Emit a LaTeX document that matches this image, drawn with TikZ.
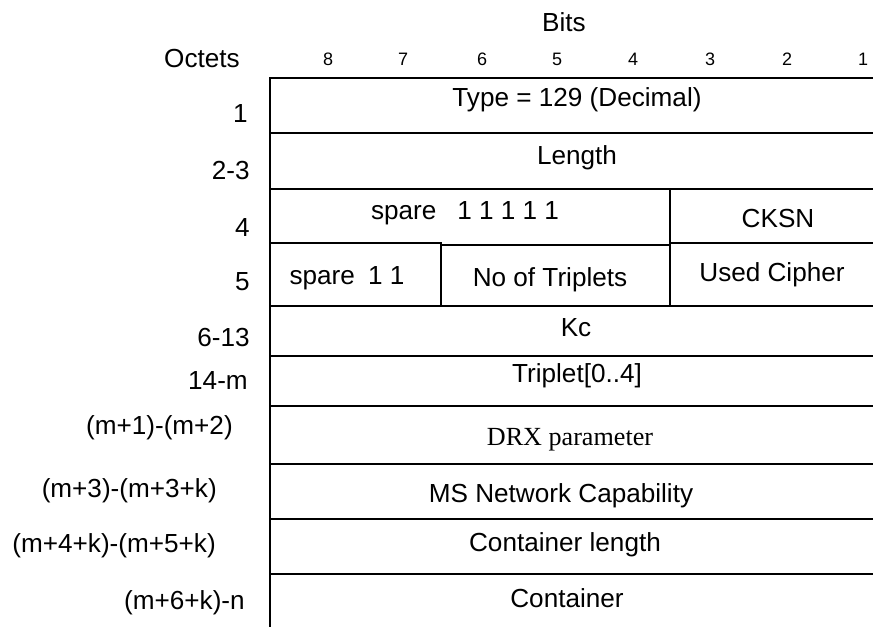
\documentclass[tikz,border=0pt]{standalone}
\usepackage{fontspec}
\setmainfont{Liberation Sans}
\newfontfamily\timesfont{Liberation Serif}
\begin{document}
\begin{tikzpicture}[x=0.75pt,y=-0.75pt,
  rule/.style={line width=1.5pt, line cap=rect},
  txt/.style={font=\fontsize{19.6}{23}\selectfont, inner sep=0pt, anchor=base},
  lbl/.style={txt, anchor=base east},
  bitnum/.style={font=\fontsize{13.5}{16}\selectfont, inner sep=0pt, anchor=base}]
\useasboundingbox (0,0) rectangle (873,626);
\fill[white] (0,0) rectangle (873,626);

% header
\node[txt] (bits) at (564,31) {Bits};
\node[lbl] (octets) at (240,67) {Octets};
\foreach \n/\x in {8/328,7/403,6/482,5/557,4/633,3/710,2/787,1/863}
  \node[bitnum] (b\n) at (\x,65) {\n};

% table rules
\draw[rule] (270,78) -- (873,78);
\foreach \y in {133,189,306,356,406,464,519,574}
  \draw[rule] (270,\y) -- (873,\y);
\draw[rule] (270,243) -- (441,243);
\draw[rule] (441,245) -- (670,245);
\draw[rule] (670,243) -- (873,243);
\draw[rule] (270,78) -- (270,626);
\draw[rule] (670,189) -- (670,306);
\draw[rule] (441,245) -- (441,306);

% cell texts
\node[txt] (type) at (577,106) {Type = 129 (Decimal)};
\node[txt] (len) at (577,164) {Length};
\node[txt] (spare5) at (465,219) {spare\hspace{0.8em}1 1 1 1 1};
\node[txt] (cksn) at (778,227) {CKSN};
\node[txt] (spare2) at (347,284) {spare\hspace{0.5em}1 1};
\node[txt] (notrip) at (550,286) {No of Triplets};
\node[txt] (cipher) at (772,281) {Used Cipher};
\node[txt] (kc) at (576,336) {Kc};
\node[txt] (trip) at (577,382) {Triplet[0..4]};
\node[txt, font=\fontsize{19.6}{23}\timesfont] (drx) at (570,445) {DRX parameter};
\node[txt] (msnc) at (561,502) {MS Network Capability};
\node[txt] (clen) at (565,551) {Container length};
\node[txt] (cont) at (567,607) {Container};

% octet labels
\node[lbl] (o1) at (248,122) {1};
\node[lbl] (o2) at (250,179) {2-3};
\node[lbl] (o4) at (250,236) {4};
\node[lbl] (o5) at (250,290) {5};
\node[lbl] (o6) at (250,346) {6-13};
\node[lbl] (o14) at (248,389) {14-m};
\node[lbl] (om1) at (233,434) {(m+1)-(m+2)};
\node[lbl] (om3) at (217,497) {(m+3)-(m+3+k)};
\node[lbl] (om4) at (216,552) {(m+4+k)-(m+5+k)};
\node[lbl] (om6) at (245,609) {(m+6+k)-n};
\end{tikzpicture}
\end{document}
